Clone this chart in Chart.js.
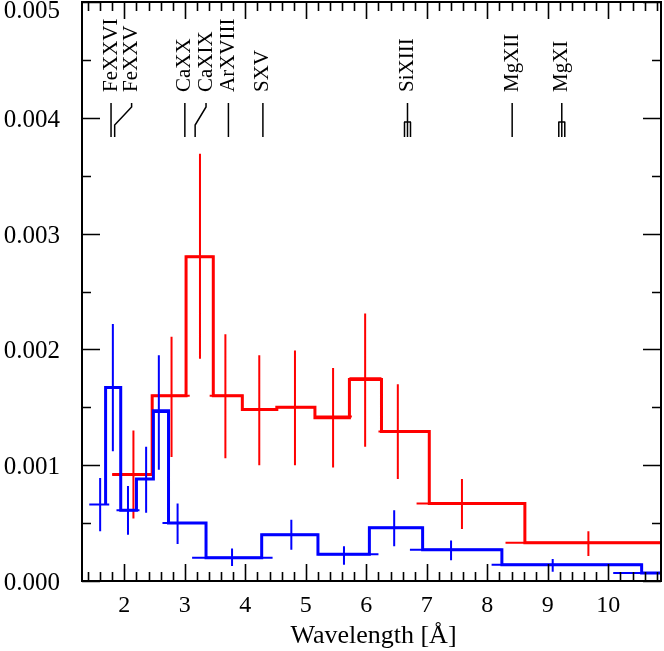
<!DOCTYPE html>
<html>
<head>
<meta charset="utf-8">
<script src="https://cdn.jsdelivr.net/npm/chart.js@4.4.1/dist/chart.umd.min.js"></script>
<style>
  html, body { margin: 0; padding: 0; background: #fff; }
  #wrap { width: 664px; height: 651px; }
</style>
</head>
<body>
<div id="wrap"><canvas id="spec" width="664" height="651"></canvas></div>
<script>
// Axis tick labels
const xTickLabels = ["2", "3", "4", "5", "6", "7", "8", "9", "10"];
const yTickLabels = ["0.000", "0.001", "0.002", "0.003", "0.004", "0.005"];

// Red spectrum: data points with x / y error bars
const redX    = [2.15, 2.78, 3.25, 3.67, 4.23, 4.82, 5.45, 5.98, 6.52, 7.58, 9.67];
const redY    = [0.00092, 0.0016, 0.0028, 0.0016, 0.00148, 0.0015, 0.00142, 0.00175, 0.00129, 0.00067, 0.00033];
const redXLo  = [1.80, 2.46, 3.02, 3.41, 3.95, 4.52, 5.15, 5.72, 6.20, 6.83, 8.30];
const redXHi  = [2.49, 3.08, 3.47, 3.96, 4.52, 5.15, 5.76, 6.25, 7.05, 8.62, 11.0];
const redYLo  = [0.00054, 0.00107, 0.00192, 0.00106, 0.0010, 0.0010, 0.00098, 0.00116, 0.00088, 0.00045, 0.000215];
const redYHi  = [0.0013, 0.00211, 0.00369, 0.00213, 0.00195, 0.00199, 0.00184, 0.00231, 0.0017, 0.00088, 0.00043];
// Red model histogram
const redEdges  = [1.80, 2.46, 3.02, 3.47, 3.95, 4.52, 5.15, 5.72, 6.25, 7.04, 8.62, 12.0];
const redLevels = [0.00092, 0.0016, 0.0028, 0.0016, 0.00148, 0.0015, 0.00141, 0.00174, 0.00129, 0.00067, 0.00033];

// Blue spectrum
const blueX   = [1.60, 1.81, 2.06, 2.36, 2.57, 2.88, 3.78, 4.76, 5.63, 6.46, 7.40, 9.08, 11.2];
const blueY   = [0.00066, 0.00167, 0.00061, 0.00088, 0.00146, 0.0005, 0.0002, 0.0004, 0.00023, 0.00046, 0.00027, 0.00014, 0.00007];
const blueXLo = [1.42, 1.69, 1.87, 2.20, 2.49, 2.63, 3.12, 4.27, 5.20, 6.03, 6.72, 8.07, 10.08];
const blueXHi = [1.75, 1.94, 2.25, 2.48, 2.74, 3.35, 4.45, 5.20, 6.20, 6.93, 8.24, 10.55, 12.5];
const blueYLo = [0.00043, 0.00112, 0.0004, 0.00059, 0.00096, 0.00032, 0.00013, 0.00027, 0.00014, 0.0003, 0.00018, 0.00008, 0.00004];
const blueYHi = [0.00089, 0.00222, 0.00082, 0.00116, 0.00195, 0.00067, 0.00028, 0.00053, 0.0003, 0.00061, 0.00035, 0.00019, 0.0001];
// Blue model histogram (first bin has zero width: model starts with the rise at 1.69)
const blueEdges  = [1.69, 1.69, 1.94, 2.20, 2.48, 2.73, 3.35, 4.27, 5.20, 6.05, 6.93, 8.24, 10.55, 12.5];
const blueLevels = [0.00066, 0.00167, 0.00061, 0.00088, 0.00147, 0.0005, 0.0002, 0.0004, 0.00023, 0.00046, 0.00027, 0.00014, 0.00007];

// Line identifications along the top
const lineNames  = ["FeXXVI", "FeXXV", "CaXX", "CaXIX", "ArXVIII", "SXV", "SiXIII", "MgXII", "MgXI"];
const lineWaves  = [1.78, 1.84, 3.00, 3.17, 3.72, 4.29, 6.68, 8.41, 9.23];
const labelWaves = [1.78, 2.12, 3.00, 3.35, 3.72, 4.29, 6.68, 8.41, 9.23];
const lineTriplet = [false, false, false, false, false, false, true, false, true];

const SERIF = '"Liberation Serif", "DejaVu Serif", serif';

// error crosses as gapped line segments
function crossPoints(xs, ys, xlo, xhi, ylo, yhi) {
  const pts = [];
  xs.forEach((x, i) => {
    pts.push({ x: xlo[i], y: ys[i] }, { x: xhi[i], y: ys[i] }, { x: x, y: null });
    pts.push({ x: x, y: ylo[i] }, { x: x, y: yhi[i] }, { x: x, y: null });
  });
  return pts;
}

function stepPoints(edges, levels) {
  const pts = [];
  levels.forEach((v, i) => {
    pts.push({ x: edges[i], y: v }, { x: edges[i + 1], y: v });
  });
  return pts;
}

// frame, inward ticks, labels and line IDs
const framePlugin = {
  id: "frame",
  afterDatasetsDraw(chart) {
    const { ctx, chartArea: a, scales: { x, y } } = chart;
    ctx.save();
    ctx.strokeStyle = "#000";
    ctx.fillStyle = "#000";
    ctx.lineWidth = 2;
    ctx.strokeRect(a.left, a.top, a.right - a.left, a.bottom - a.top);

    ctx.lineWidth = 1.6;
    ctx.beginPath();
    for (let k = 7; k <= 54; k++) {
      const px = Math.round(x.getPixelForValue(k / 5)) + 0.5;
      const len = k % 5 === 0 ? 17 : 9;
      ctx.moveTo(px, a.bottom); ctx.lineTo(px, a.bottom - len);
      ctx.moveTo(px, a.top); ctx.lineTo(px, a.top + len);
    }
    for (let k = 0; k <= 10; k++) {
      const py = Math.round(y.getPixelForValue(k * 0.0005)) + 0.5;
      const len = k % 2 === 0 ? 18 : 9;
      ctx.moveTo(a.left, py); ctx.lineTo(a.left + len, py);
      ctx.moveTo(a.right, py); ctx.lineTo(a.right - len, py);
    }
    ctx.stroke();

    ctx.font = "25px " + SERIF;
    ctx.textAlign = "right";
    ctx.textBaseline = "alphabetic";
    yTickLabels.forEach((t) => {
      const py = y.getPixelForValue(parseFloat(t));
      ctx.fillText(t, 60, Math.max(py + 9, 18));
    });

    ctx.font = "24px " + SERIF;
    ctx.textAlign = "center";
    xTickLabels.forEach((t) => {
      ctx.fillText(t, x.getPixelForValue(parseFloat(t)), 612);
    });

    ctx.font = "26px " + SERIF;
    ctx.fillText("Wavelength [Å]", (a.left + a.right) / 2 + 2, 643);

    // line markers
    ctx.lineWidth = 1.5;
    ctx.font = "21px " + SERIF;
    lineNames.forEach((name, i) => {
      const px = x.getPixelForValue(lineWaves[i]);
      const lx = x.getPixelForValue(labelWaves[i]);
      ctx.beginPath();
      if (Math.abs(lx - px) > 1) {
        ctx.moveTo(lx, 103); ctx.lineTo(lx, 107);
        ctx.lineTo(px, 125); ctx.lineTo(px, 137);
      } else if (lineTriplet[i]) {
        ctx.moveTo(px, 103); ctx.lineTo(px, 122);
        ctx.moveTo(px - 3.5, 122); ctx.lineTo(px + 3.5, 122);
        [-3, 0, 3].forEach((d) => { ctx.moveTo(px + d, 122); ctx.lineTo(px + d, 137); });
      } else {
        ctx.moveTo(px, 103); ctx.lineTo(px, 137);
      }
      ctx.stroke();

      ctx.save();
      ctx.translate(lx, 92);
      ctx.rotate(-Math.PI / 2);
      ctx.textAlign = "left";
      ctx.textBaseline = "middle";
      ctx.fillText(name, 0, 0);
      ctx.restore();
    });
    ctx.restore();
  },
};

const RED = "#ff0000";
const BLUE = "#0000ff";

new Chart(document.getElementById("spec"), {
  type: "line",
  data: {
    datasets: [
      { data: stepPoints(blueEdges, blueLevels), borderColor: BLUE, borderWidth: 3, order: 2 },
      { data: crossPoints(blueX, blueY, blueXLo, blueXHi, blueYLo, blueYHi), borderColor: BLUE, borderWidth: 2, order: 1 },
      { data: stepPoints(redEdges, redLevels), borderColor: RED, borderWidth: 3, order: 4 },
      { data: crossPoints(redX, redY, redXLo, redXHi, redYLo, redYHi), borderColor: RED, borderWidth: 2, order: 3 },
    ],
  },
  options: {
    responsive: false,
    animation: false,
    layout: { padding: { left: 82, right: 3, top: 2, bottom: 70 } },
    plugins: {
      legend: { display: false },
      tooltip: { enabled: false },
    },
    elements: {
      point: { radius: 0 },
      line: { tension: 0, borderCapStyle: "butt", borderJoinStyle: "miter", fill: false },
    },
    scales: {
      x: { type: "linear", min: 1.3, max: 10.87, display: false },
      y: { type: "linear", min: 0, max: 0.005, display: false },
    },
  },
  plugins: [framePlugin],
});
</script>
</body>
</html>
